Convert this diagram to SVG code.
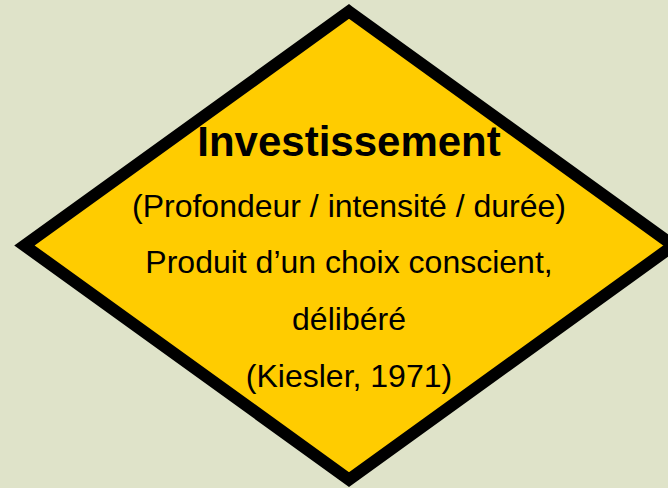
<svg xmlns="http://www.w3.org/2000/svg" width="668" height="488" viewBox="0 0 668 488">
<style>
.t{font-family:"Liberation Sans",Arial,sans-serif;font-size:32px;fill:#000;text-anchor:middle}
.h{font-weight:bold;font-size:42px}
</style>
<rect width="668" height="488" fill="#DFE3C9"/>
<g id="connectors"></g>
<g id="node-investissement">
<polygon points="349,11.5 673.5,245.5 349,479.5 24.5,245.5" fill="#FFCC00" stroke="#000" stroke-width="12" stroke-linejoin="miter" stroke-miterlimit="10"/>
<text class="t h" x="349" y="155.5">Investissement</text>
<text class="t" x="349" y="217">(Profondeur / intensité / durée)</text>
<text class="t" x="349" y="273">Produit d’un choix conscient,</text>
<text class="t" x="349" y="330">délibéré</text>
<text class="t" x="349" y="386.5">(Kiesler, 1971)</text>
</g>
</svg>
